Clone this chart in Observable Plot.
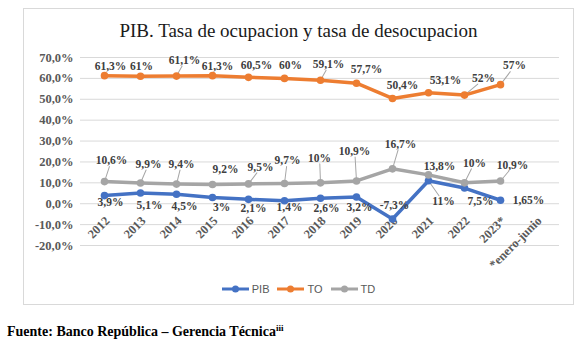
<!DOCTYPE html>
<html>
<head>
<meta charset="utf-8">
<script src="https://cdn.jsdelivr.net/npm/d3@7"></script>
<script src="https://cdn.jsdelivr.net/npm/@observablehq/plot@0.6"></script>
<style>
  html, body { margin: 0; padding: 0; background: #fff; }
  #wrap { position: relative; width: 582px; height: 341px; background: #fff; overflow: hidden; }
  #box { position: absolute; left: 23px; top: 8px; width: 551px; height: 297px; border: 1px solid #d9d9d9; box-sizing: border-box; }
  #title { position: absolute; left: 23px; width: 551px; top: 21px; text-align: center; font-family: "Liberation Serif", serif; font-size: 19px; line-height: 19px; color: #1a1a1a; white-space: nowrap; }
  #chart { position: absolute; left: 0; top: 0; }
  #legend { position: absolute; left: 23px; width: 551px; top: 282px; height: 14px; display: flex; justify-content: center; align-items: center; font-family: "Liberation Sans", Arial, sans-serif; font-size: 11px; color: #595959; }
  #legend .item { display: flex; align-items: center; margin: 0 4px; }
  #legend svg { margin-right: 3px; }
  #footer { position: absolute; left: 7px; top: 325px; font-family: "Liberation Serif", serif; font-weight: bold; font-size: 14px; line-height: 14px; color: #000; white-space: nowrap; }
  #footer sup { font-size: 9px; vertical-align: 5px; line-height: 0; }
  #chart svg text { font-family: "Liberation Serif", "Times New Roman", serif; }
</style>
</head>
<body>
<div id="wrap">
  <div id="box"></div>
  <div id="chart"></div>
  <div id="title">PIB. Tasa de ocupacion y tasa de desocupacion</div>
  <div id="legend"></div>
  <div id="footer">Fuente: Banco República – Gerencia Técnica<sup>iii</sup></div>
</div>
<script>
// ---- data ----
const categories = ["2012", "2013", "2014", "2015", "2016", "2017", "2018", "2019", "2020", "2021", "2022", "2023*", "*enero-junio"];
const years = ["2012", "2013", "2014", "2015", "2016", "2017", "2018", "2019", "2020", "2021", "2022", "2023*"];
const pib = [3.9, 5.1, 4.5, 3, 2.1, 1.4, 2.6, 3.2, -7.3, 11, 7.5, 1.65];
const to = [61.3, 61, 61.1, 61.3, 60.5, 60, 59.1, 57.7, 50.4, 53.1, 52, 57];
const td = [10.6, 9.9, 9.4, 9.2, 9.5, 9.7, 10, 10.9, 16.7, 13.8, 10, 10.9];
const seriesNames = ["PIB", "TO", "TD"];
const yTicks = [-20, -10, 0, 10, 20, 30, 40, 50, 60, 70];

// ---- label placement (style) ----
const pibOffsets = [[6,7],[9,12],[8,12],[9,10],[5,9],[5,7],[6,10],[3,10],[2,-14],[15,21],[16,13],[28,0]];
const toOffsets = [[6,-9],[1,-10],[8,-16],[5,-9],[8,-12],[6,-13],[8,-16],[10,-14],[10,-13],[17,-12],[19,-17],[14,-19]];
const tdOffsets = [[7,-21],[8,-19],[5,-20],[13,-15],[12,-17],[3,-23],[-1,-25],[-2,-30],[8,-25],[11,-9],[10,-20],[12,-16]];
const pibLeaders = [9];
const toLeaders = [2, 6, 10, 11];
const tdLeaders = [0, 1, 2, 4, 5, 6, 7, 8, 10, 11];
const colors = {PIB: "#4472C4", TO: "#ED7D31", TD: "#A5A5A5"};
const serif = "'Liberation Serif', 'Times New Roman', serif";

const fmtVal = v => String(v).replace(".", ",") + "%";
const fmtAxis = v => v.toFixed(1).replace(".", ",") + "%";

const series = [
  {name: "PIB", values: pib, offsets: pibOffsets, leaders: pibLeaders},
  {name: "TO", values: to, offsets: toOffsets, leaders: toLeaders},
  {name: "TD", values: td, offsets: tdOffsets, leaders: tdLeaders}
].map(s => ({
  ...s,
  rows: s.values.map((v, i) => ({cat: years[i], v, label: fmtVal(v), dx: s.offsets[i][0], dy: s.offsets[i][1], leader: s.leaders.includes(i)}))
}));

const lineShape = {draw(context, l) { context.moveTo(0, 0); context.lineTo(0, -l); }};

const marks = [
  Plot.gridY(yTicks, {stroke: "#d9d9d9", strokeOpacity: 1, strokeWidth: 1}),
  Plot.axisY(yTicks, {tickSize: 0, tickPadding: 7, tickFormat: fmtAxis, fontSize: 12.5, fontWeight: "bold", fontFamily: serif, color: "#595959", label: null}),
  Plot.text(categories, {x: d => d, y: () => 0, text: d => d, rotate: -45, textAnchor: "end", lineAnchor: "middle", dx: 3, dy: 15, fontSize: 12.5, fontWeight: "bold", fontFamily: serif, fill: "#595959"})
];

// leader lines
for (const s of series) {
  const lead = s.rows.filter(r => r.leader).map(r => {
    const ex = r.dx * 0.7;
    const ey = r.dy < 0 ? r.dy + 6 : r.dy - 6;
    return {...r, len: Math.hypot(ex, ey), ang: Math.atan2(ex, -ey) * 180 / Math.PI};
  });
  marks.push(Plot.vector(lead, {x: "cat", y: "v", length: "len", rotate: "ang", anchor: "start", shape: lineShape, stroke: "#a6a6a6", strokeWidth: 1}));
}
// lines and dots
for (const s of series) {
  marks.push(Plot.line(s.rows, {x: "cat", y: "v", stroke: colors[s.name], strokeWidth: 3.5, strokeLinejoin: "round", strokeLinecap: "round"}));
  marks.push(Plot.dot(s.rows, {x: "cat", y: "v", r: 3.8, fill: colors[s.name], stroke: "none"}));
}
// data labels
for (const s of series) {
  for (const r of s.rows) {
    marks.push(Plot.text([r], {x: "cat", y: "v", text: "label", dx: r.dx, dy: r.dy, lineAnchor: "middle", fontSize: 11.5, fontWeight: "bold", fontFamily: serif, fill: "#404040"}));
  }
}

const chart = Plot.plot({
  width: 582,
  height: 310,
  marginTop: 57,
  marginBottom: 65,
  marginLeft: 80,
  marginRight: 23,
  x: {type: "band", domain: categories, padding: 0, axis: null},
  y: {domain: [-20, 70]},
  length: {type: "identity"},
  style: {fontFamily: serif, background: "transparent", overflow: "visible"},
  marks
});
document.getElementById("chart").appendChild(chart);

// legend
const legend = document.getElementById("legend");
for (const name of seriesNames) {
  const item = document.createElement("div");
  item.className = "item";
  item.innerHTML = `<svg width="27" height="8"><line x1="0" y1="4" x2="27" y2="4" stroke="${colors[name]}" stroke-width="3"/><circle cx="13.5" cy="4" r="3.5" fill="${colors[name]}"/></svg><span>${name}</span>`;
  legend.appendChild(item);
}
</script>
</body>
</html>
